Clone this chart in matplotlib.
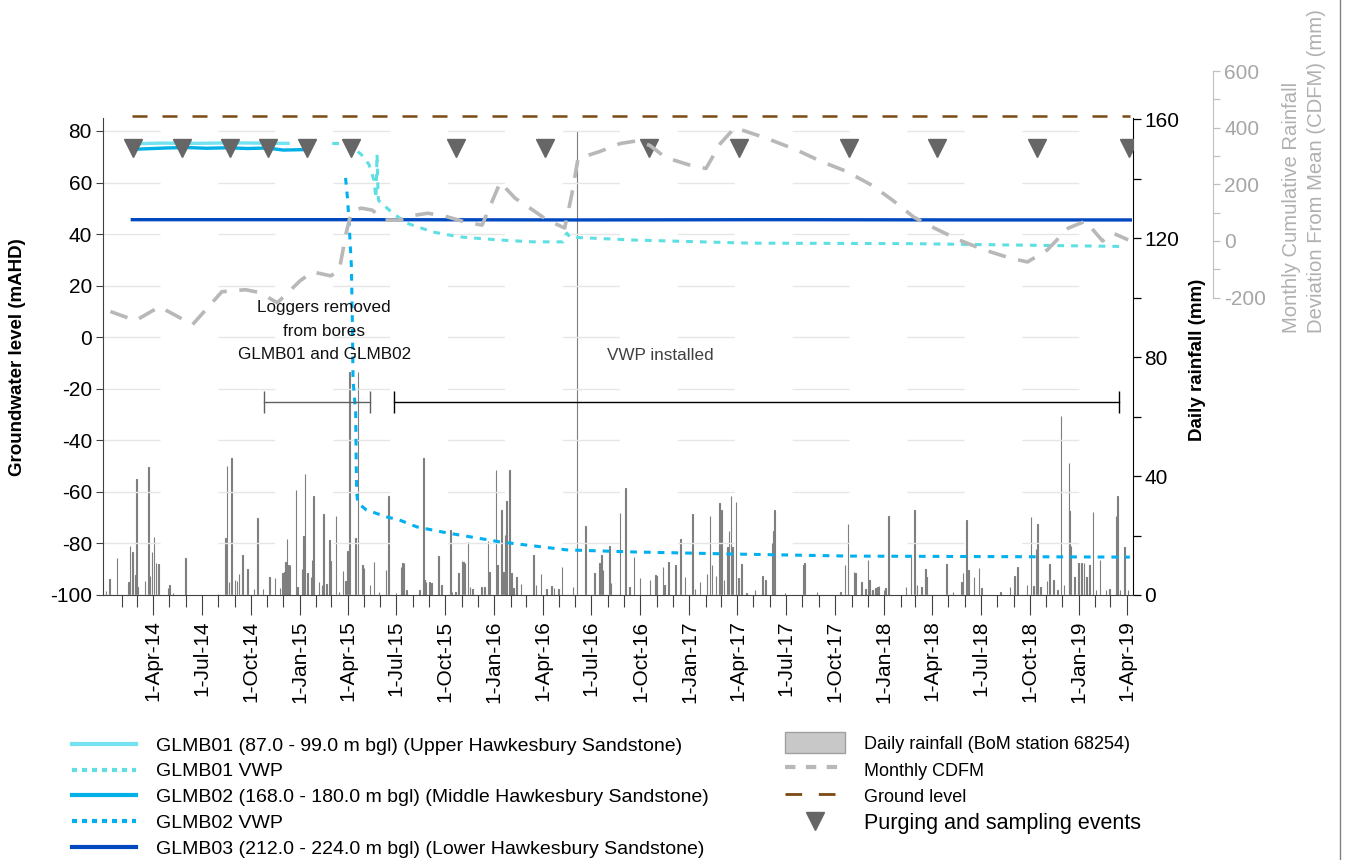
import matplotlib
matplotlib.use("Agg")
import matplotlib.pyplot as plt
import matplotlib.dates as mdates
from matplotlib.lines import Line2D
from matplotlib.patches import Patch
import pandas as pd

plt.rcParams['font.family'] = ['Liberation Sans', 'DejaVu Sans']
plt.rcParams['axes.unicode_minus'] = False

# --- DATA ---
glmb01_dates = ['2014-02-21', '2014-04-15', '2014-06-20', '2014-08-25', '2014-10-20', '2014-12-10']
glmb01_level = [75.0, 75.3, 75.2, 75.4, 75.3, 75.2]

glmb02_dates = ['2014-02-21', '2014-03-20', '2014-04-25', '2014-06-01', '2014-07-10',
                '2014-08-20', '2014-09-25', '2014-11-01', '2014-12-01', '2015-01-15']
glmb02_level = [72.9, 73.1, 73.4, 73.6, 73.3, 73.5, 73.2, 73.4, 72.6, 72.8]

glmb03_dates = ['2014-02-21', '2015-04-20', '2016-06-05', '2017-06-20', '2018-06-01', '2019-04-08']
glmb03_level = [45.6, 45.6, 45.5, 45.6, 45.5, 45.5]

vwp01_dates = ['2015-03-03', '2015-03-25', '2015-04-10', '2015-04-26', '2015-05-11', '2015-05-20',
               '2015-05-24', '2015-05-26', '2015-05-28', '2015-05-29', '2015-06-24', '2015-07-20',
               '2015-09-08', '2015-10-28', '2016-01-12', '2016-03-13', '2016-05-09', '2016-05-16',
               '2016-05-22', '2016-07-17', '2016-09-18', '2017-01-22', '2017-04-24', '2018-02-19',
               '2019-03-28']
vwp01_level = [75.2, 75.0, 73.5, 71.0, 67.0, 61.0, 54.0, 71.0, 55.0, 53.0, 48.2, 44.3,
               40.8, 38.9, 37.7, 37.0, 37.0, 40.4, 38.8, 38.3, 37.7, 37.0, 36.5, 36.3, 35.2]

vwp02_dates = ['2015-03-28', '2015-04-01', '2015-04-04', '2015-04-08', '2015-04-10', '2015-04-11',
               '2015-04-16', '2015-04-17', '2015-04-18', '2015-04-20', '2015-05-06', '2015-06-13',
               '2015-07-07', '2015-08-09', '2015-10-04', '2016-01-12', '2016-05-16', '2016-09-18',
               '2017-03-23', '2017-10-29', '2019-04-07']
vwp02_level = [61.8, 53.0, 42.8, 27.2, 1.6, -16.6, -29.4, -50.3, -60.4, -64.3, -67.0, -69.7,
               -70.9, -73.6, -75.9, -79.4, -82.5, -83.3, -84.1, -84.9, -85.3]

ground_dates = ['2014-02-21', '2019-04-08']
ground_level = [86.0, 86.0]

sampling_dates = ['2014-02-23', '2014-05-26', '2014-08-23', '2014-11-03', '2015-01-14',
                  '2015-04-07', '2015-10-21', '2016-04-05', '2016-10-18', '2017-04-04',
                  '2017-10-28', '2018-04-10', '2018-10-14', '2019-04-05']
sampling_level = [73.5] * len(sampling_dates)

cdfm_dates = ['2014-01-11', '2014-02-27', '2014-04-13', '2014-06-14', '2014-08-08', '2014-09-21',
              '2014-10-18', '2014-11-20', '2015-01-02', '2015-01-25', '2015-02-28', '2015-03-16',
              '2015-03-29', '2015-04-08', '2015-04-26', '2015-05-17', '2015-06-09', '2015-07-07',
              '2015-08-05', '2015-08-29', '2015-09-30', '2015-11-07', '2015-12-09', '2016-01-12',
              '2016-02-09', '2016-03-08', '2016-04-09', '2016-05-12', '2016-05-25', '2016-06-06',
              '2016-06-29', '2016-07-17', '2016-08-24', '2016-09-26', '2016-10-19', '2016-11-17',
              '2017-01-03', '2017-02-01', '2017-02-28', '2017-03-27', '2017-05-22', '2017-07-19',
              '2017-09-05', '2017-10-22', '2017-12-10', '2018-01-17', '2018-02-26', '2018-04-05',
              '2018-05-21', '2018-07-09', '2018-08-25', '2018-09-27', '2018-11-03', '2018-12-13',
              '2019-01-14', '2019-02-15', '2019-03-06', '2019-04-04']
cdfm_mm = [-249, -281, -232, -295, -179, -172, -182, -218, -140, -109, -123, -105,
           28, 102, 116, 109, 74, 74, 91, 98, 88, 67, 56, 207,
           151, 116, 74, 46, 161, 291, 305, 316, 344, 354, 337, 295,
           267, 256, 344, 400, 365, 323, 281, 246, 196, 144, 84, 46,
           4, -32, -60, -74, -32, 46, 70, 0, 28, 4]

rain_dates = [
    '2014-01-03', '2014-01-09', '2014-01-23', '2014-02-14', '2014-02-17', '2014-02-21', '2014-02-27',
    '2014-03-01', '2014-03-03', '2014-03-17', '2014-03-23', '2014-03-26', '2014-03-30', '2014-04-03',
    '2014-04-06', '2014-04-11', '2014-04-29', '2014-05-02', '2014-05-08', '2014-06-01', '2014-08-01',
    '2014-08-15', '2014-08-18', '2014-08-21', '2014-08-26', '2014-09-02', '2014-09-05', '2014-09-09',
    '2014-09-16', '2014-09-25', '2014-10-07', '2014-10-14', '2014-10-24', '2014-11-05', '2014-11-16',
    '2014-11-25', '2014-11-30', '2014-12-03', '2014-12-05', '2014-12-08', '2014-12-11', '2014-12-14',
    '2014-12-25', '2014-12-28', '2015-01-05', '2015-01-08', '2015-01-11', '2015-01-16', '2015-01-22',
    '2015-01-24', '2015-01-27', '2015-02-06', '2015-02-12', '2015-02-15', '2015-02-20', '2015-02-26',
    '2015-02-28', '2015-03-10', '2015-03-16', '2015-03-23', '2015-03-28', '2015-04-01', '2015-04-04',
    '2015-04-16', '2015-04-20', '2015-04-29', '2015-05-02', '2015-05-13', '2015-05-20', '2015-05-30',
    '2015-06-12', '2015-06-17', '2015-07-01', '2015-07-10', '2015-07-13', '2015-07-16', '2015-07-20',
    '2015-08-14', '2015-08-21', '2015-08-23', '2015-08-26', '2015-09-01', '2015-09-05', '2015-09-18',
    '2015-09-24', '2015-10-11', '2015-10-14', '2015-10-20', '2015-10-26', '2015-11-01', '2015-11-04',
    '2015-11-07', '2015-11-13', '2015-11-16', '2015-11-21', '2015-12-08', '2015-12-14', '2015-12-20',
    '2015-12-23', '2016-01-04', '2016-01-07', '2016-01-14', '2016-01-18', '2016-01-21', '2016-01-24',
    '2016-01-29', '2016-02-02', '2016-02-06', '2016-02-12', '2016-02-20', '2016-03-15', '2016-03-19',
    '2016-03-29', '2016-04-08', '2016-04-17', '2016-04-22', '2016-04-30', '2016-05-07', '2016-05-28',
    '2016-06-04', '2016-06-20', '2016-07-07', '2016-07-16', '2016-07-20', '2016-07-23', '2016-08-04',
    '2016-08-07', '2016-08-24', '2016-09-03', '2016-09-11', '2016-09-19', '2016-09-30', '2016-10-19',
    '2016-10-29', '2016-10-31', '2016-11-12', '2016-11-15', '2016-11-23', '2016-12-06', '2016-12-15',
    '2016-12-24', '2017-01-07', '2017-01-11', '2017-01-21', '2017-02-03', '2017-02-09', '2017-02-12',
    '2017-02-20', '2017-02-26', '2017-02-28', '2017-03-02', '2017-03-07', '2017-03-13', '2017-03-16',
    '2017-03-20', '2017-03-23', '2017-03-29', '2017-04-03', '2017-04-09', '2017-04-18', '2017-05-04',
    '2017-05-18', '2017-05-24', '2017-06-05', '2017-06-08', '2017-06-10', '2017-06-29', '2017-08-03',
    '2017-08-05', '2017-08-28', '2017-10-11', '2017-10-20', '2017-10-25', '2017-11-06', '2017-11-08',
    '2017-11-20', '2017-11-27', '2017-12-02', '2017-12-05', '2017-12-10', '2017-12-16', '2017-12-20',
    '2017-12-23', '2018-01-01', '2018-01-04', '2018-01-09', '2018-02-11', '2018-02-21', '2018-02-27',
    '2018-02-28', '2018-03-04', '2018-03-12', '2018-03-20', '2018-03-22', '2018-04-28', '2018-05-10',
    '2018-05-26', '2018-05-29', '2018-06-05', '2018-06-08', '2018-06-19', '2018-06-28', '2018-07-03',
    '2018-08-07', '2018-08-25', '2018-09-03', '2018-09-08', '2018-09-26', '2018-10-04', '2018-10-08',
    '2018-10-13', '2018-10-16', '2018-10-21', '2018-11-03', '2018-11-07', '2018-11-15', '2018-11-22',
    '2018-11-29', '2018-12-05', '2018-12-14', '2018-12-15', '2018-12-18', '2018-12-24', '2019-01-01',
    '2019-01-06', '2019-01-11', '2019-01-16', '2019-01-21', '2019-01-28', '2019-02-03', '2019-02-10',
    '2019-02-21', '2019-02-28', '2019-03-12', '2019-03-15', '2019-03-20', '2019-03-28', '2019-04-04']
rain_mm = [
    1.3, 5.3, 12.3, 4.5, 16.5, 14.3, 6.7,
    39.0, 2.6, 4.7, 42.9, 6.4, 14.5, 19.5,
    10.6, 10.4, 2.2, 3.4, 0.8, 12.4, 0.3,
    19.0, 43.4, 4.5, 46.0, 5.0, 4.8, 7.0,
    13.4, 8.6, 1.9, 26.0, 2.0, 6.0, 5.6,
    2.2, 7.5, 7.8, 11.1, 18.7, 10.0, 10.0,
    35.3, 2.8, 8.6, 20.0, 40.7, 7.3, 6.2,
    11.8, 33.4, 4.5, 3.4, 27.2, 3.6, 18.4,
    11.4, 26.6, 1.1, 8.2, 4.6, 14.9, 75.0,
    19.3, 75.0, 10.0, 9.2, 3.3, 11.2, 1.1,
    8.4, 33.4, 0.6, 9.5, 10.9, 10.9, 1.7,
    1.7, 46.2, 5.0, 4.5, 4.5, 4.1, 13.1,
    3.4, 21.8, 1.1, 1.1, 7.5, 11.5, 11.2,
    10.9, 17.8, 2.8, 1.9, 2.8, 2.8, 18.0,
    7.8, 42.0, 10.0, 28.6, 7.8, 20.2, 31.5,
    42.0, 7.5, 2.2, 5.9, 3.7, 13.4, 3.4,
    7.0, 1.9, 3.0, 2.2, 1.9, 9.3, 2.8,
    156.0, 23.2, 7.3, 10.6, 13.4, 8.4, 16.5,
    3.9, 27.5, 36.0, 2.8, 12.9, 5.7, 5.0,
    6.7, 6.4, 9.3, 3.4, 11.2, 10.0, 18.7,
    6.2, 27.1, 1.9, 4.5, 7.0, 26.6, 10.0,
    6.4, 31.0, 17.0, 28.6, 5.0, 16.2, 21.5,
    33.3, 16.2, 31.3, 5.6, 10.4, 0.6, 1.7,
    6.4, 5.0, 17.6, 21.6, 28.6, 0.8, 10.0,
    10.9, 1.0, 1.0, 10.0, 24.0, 7.8, 7.5,
    4.5, 2.0, 11.8, 5.0, 1.7, 2.2, 2.8,
    3.0, 1.7, 2.2, 26.6, 2.8, 12.9, 28.6,
    4.5, 3.4, 2.8, 8.6, 6.2, 10.3, 0.9,
    4.5, 7.3, 25.2, 8.4, 6.2, 9.0, 2.2,
    1.1, 2.6, 6.4, 9.3, 3.4, 26.1, 3.0,
    15.4, 23.8, 2.8, 4.7, 10.4, 5.0, 1.7,
    60.3, 3.4, 44.3, 28.2, 16.4, 6.2, 10.6,
    10.6, 10.6, 6.2, 10.0, 27.9, 1.7, 11.8,
    1.7, 1.9, 26.6, 33.4, 1.7, 16.2, 1.7]

interval_starts = ['2014-10-26', '2015-06-26']
interval_ends = ['2015-05-13', '2019-03-17']
interval_level = -25.3

# --- STYLE ---
C01 = '#74E2F0'
C01V = '#5EE0E2'
C02 = '#00B0E6'
C02V = '#00B0F0'
C03 = '#0048C0'
RAIN_C = '#7F7F7F'
CDFM_C = '#B8B8B8'
GROUND_C = '#7A4A12'
TRI_C = '#666666'
DOT = (0, (2.2, 2.3))

W, H = 1351, 860
fig = plt.figure(figsize=(W / 100, H / 100), dpi=100)
ax_pos = [103 / W, 1 - 595 / H, 1030 / W, 477 / H]
ax = fig.add_axes(ax_pos)
axr = ax.twinx()
ax.set_zorder(axr.get_zorder() + 1)
ax.patch.set_visible(False)

# rainfall bars (right axis)
axr.bar(pd.to_datetime(rain_dates), rain_mm, width=1.0, color=RAIN_C,
        edgecolor=RAIN_C, linewidth=0.8)
axr.set_ylim(0, 160.34)
axr.set_yticks([0, 40, 80, 120, 160])
axr.set_yticks([20, 60, 100, 140], minor=True)
axr.tick_params(axis='y', which='both', direction='out', length=6, width=0.9,
                labelsize=15, pad=2, colors='black')
for s in ['top', 'left', 'bottom']:
    axr.spines[s].set_visible(False)
axr.spines['right'].set_color('black')

# groundwater lines (left axis)
td = pd.to_datetime
ax.plot(td(glmb01_dates), glmb01_level, color=C01, lw=2.4)
ax.plot(td(glmb02_dates), glmb02_level, color=C02, lw=2.4)
ax.plot(td(glmb03_dates), glmb03_level, color=C03, lw=2.4)
ax.plot(td(vwp01_dates), vwp01_level, color=C01V, lw=2.2, linestyle=DOT)
ax.plot(td(vwp02_dates), vwp02_level, color=C02V, lw=2.2, linestyle=DOT)
ax.plot(td(ground_dates), ground_level, color=GROUND_C, lw=1.8,
        linestyle=(0, (6, 6)), clip_on=False)
ax.plot(td(sampling_dates), sampling_level, linestyle='none', marker='v',
        markersize=13, color=TRI_C, zorder=5)

# logger / VWP periods
for st, en, col in zip(interval_starts, interval_ends, ['#606060', 'black']):
    ax.plot(td([st, en]), [interval_level, interval_level], color=col, lw=1,
            marker='|', markersize=16, markeredgewidth=1)

ax.text(pd.Timestamp('2015-02-16'), 2.4, 'Loggers removed\nfrom bores\nGLMB01 and GLMB02',
        ha='center', va='center', fontsize=12.3, linespacing=1.68, color='#111111')
ax.text(pd.Timestamp('2016-11-08'), -6.9, 'VWP installed', ha='center', va='center',
        fontsize=12.3, color='#404040')

ax.set_ylim(-100, 85.04)
ax.set_yticks(range(-100, 81, 20))
ax.set_xlim(pd.Timestamp('2013-12-28'), pd.Timestamp('2019-04-13'))
ax.set_xticks(pd.date_range('2014-04-01', '2019-04-01', freq='QS-JAN'))
ax.set_xticks(pd.date_range('2014-02-01', '2019-04-01', freq='MS'), minor=True)
ax.xaxis.set_major_formatter(mdates.DateFormatter('1-%b-%y'))
ax.tick_params(axis='x', which='major', length=14.4, width=0.8, labelsize=15,
               labelrotation=90, pad=4, color='#404040')
ax.tick_params(axis='x', which='minor', length=8.6, width=0.8, color='#404040')
ax.tick_params(axis='y', which='major', length=5, width=0.8, labelsize=15, pad=3,
               color='#404040')
ax.yaxis.grid(True, color='#E6E6E6', linewidth=1, linestyle=(0, (41, 41.7)))
ax.set_axisbelow(True)
for s in ['top', 'right']:
    ax.spines[s].set_visible(False)
for s in ['left', 'bottom']:
    ax.spines[s].set_color('#404040')

# CDFM axis (third axis, taller so its ticks reach 600)
ax3 = fig.add_axes([ax_pos[0], ax_pos[1], ax_pos[2], 535 / H])
ax3.set_zorder(ax.get_zorder() + 1)
ax3.patch.set_visible(False)
ax3.plot(td(cdfm_dates), cdfm_mm, color=CDFM_C, lw=2.6, linestyle=(0, (5, 3.5)))
ax3.set_xlim(ax.get_xlim())
ax3.set_ylim(-1249.6, 638.9)
ax3.tick_params(axis='x', which='both', bottom=False, labelbottom=False)
for s in ['top', 'left', 'bottom']:
    ax3.spines[s].set_visible(False)
ax3.spines['right'].set_position(('axes', 1 + 80 / 1030))
ax3.spines['right'].set_bounds(-200, 600)
ax3.spines['right'].set_color('#C0C0C0')
ax3.yaxis.set_ticks_position('right')
ax3.set_yticks([-200, 0, 200, 400, 600])
ax3.set_yticks([-100, 100, 300, 500], minor=True)
ax3.tick_params(axis='y', which='both', length=5, width=0.9, color='#C0C0C0',
                labelcolor='#A6A6A6', labelsize=15, pad=3)

# axis titles
fig.text(18 / W, 1 - 357 / H, 'Groundwater level (mAHD)', rotation=90, ha='center',
         va='center', fontsize=13.5, fontweight='bold')
fig.text(1198 / W, 1 - 360 / H, 'Daily rainfall (mm)', rotation=90, ha='center',
         va='center', fontsize=13.5, fontweight='bold')
fig.text(1304 / W, 1 - 333 / H, 'Monthly Cumulative Rainfall\nDeviation From Mean (CDFM) (mm)',
         rotation=90, ha='center', va='bottom', multialignment='left', fontsize=14.6,
         color='#B0B0B0', linespacing=1.35)

# legends
left_handles = [
    Line2D([], [], color=C01, lw=3),
    Line2D([], [], color=C01V, lw=3, linestyle=(0, (1.2, 1.2))),
    Line2D([], [], color=C02, lw=3),
    Line2D([], [], color=C02V, lw=3, linestyle=(0, (1.2, 1.2))),
    Line2D([], [], color=C03, lw=3),
]
left_labels = [
    'GLMB01 (87.0 - 99.0 m bgl) (Upper Hawkesbury Sandstone)',
    'GLMB01 VWP',
    'GLMB02 (168.0 - 180.0 m bgl) (Middle Hawkesbury Sandstone)',
    'GLMB02 VWP',
    'GLMB03 (212.0 - 224.0 m bgl) (Lower Hawkesbury Sandstone)',
]
fig.legend(left_handles, left_labels, loc='upper left', bbox_to_anchor=(72 / W, 1 - 737 / H),
           frameon=False, borderpad=0, borderaxespad=0, fontsize=14, handlelength=3.3,
           handletextpad=1.0, labelspacing=0.42)

right_handles = [
    Patch(facecolor='#C8C8C8', edgecolor='#A0A0A0'),
    Line2D([], [], color=CDFM_C, lw=3, linestyle=(0, (2.5, 2.5))),
    Line2D([], [], color=GROUND_C, lw=2, linestyle=(0, (6, 6))),
    Line2D([], [], color=TRI_C, linestyle='none', marker='v', markersize=13),
]
right_labels = ['Daily rainfall (BoM station 68254)', 'Monthly CDFM', 'Ground level',
                'Purging and sampling events']
leg = fig.legend(right_handles, right_labels, loc='upper left',
                 bbox_to_anchor=(785 / W, 1 - 732 / H), frameon=False, borderpad=0,
                 borderaxespad=0, fontsize=13, handlelength=3.3, handleheight=1.45,
                 handletextpad=1.1, labelspacing=0.3)
leg.get_texts()[3].set_fontsize(15.5)

fig.add_artist(Line2D([1340 / W, 1340 / W], [0, 1], transform=fig.transFigure,
                      color='#808080', lw=1))

fig.savefig('out.png', dpi=100)
